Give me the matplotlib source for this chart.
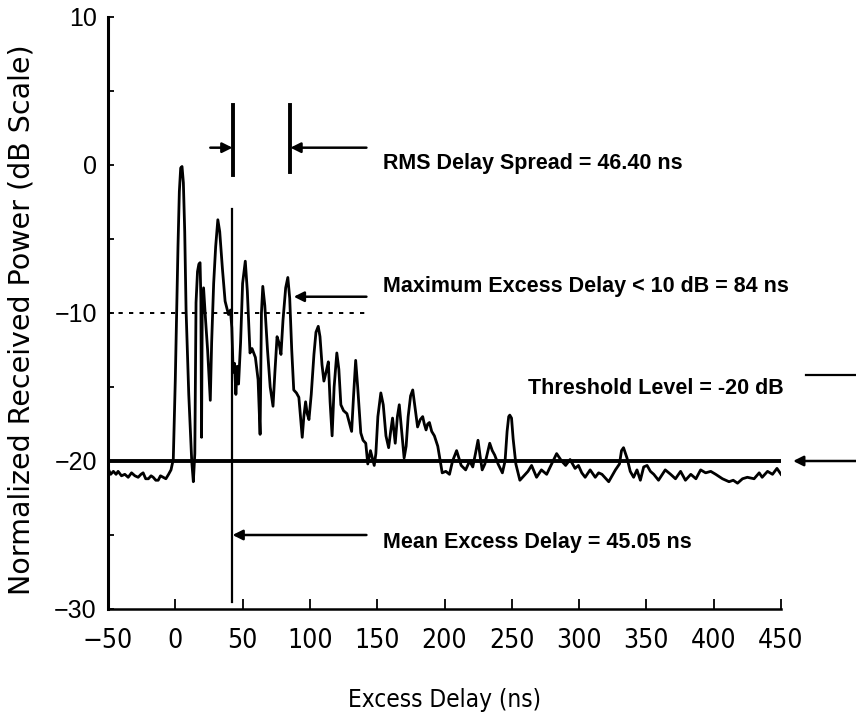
import matplotlib
matplotlib.use("Agg")
import matplotlib.pyplot as plt

# ---- data ----
delay_ns = [-50, -48, -46, -44, -42.5, -40, -37.5, -35, -32.5, -30, -27.6, -25.5, -23.9, -22, -20, -18,
            -16.4, -14.5, -12.7, -11, -9, -7, -5, -3.2, -1.5, 0, 1, 2, 3, 4, 5, 6, 7, 8, 10, 12.2, 13.4,
            14.5, 15.4, 16.5, 17.5, 18.4, 19.0, 19.5, 20.0, 21.0, 22.5, 24.0, 26.0, 27.0, 28.5, 30.0, 31.6,
            33.0, 35.0, 37.0, 39.5, 41.0, 42.0, 43.0, 44.0, 45.0, 46.0, 47.0, 48.5, 50.0, 52.0, 53.5, 55.5,
            57.0, 59.5, 61.5, 63.0, 64.0, 65.0, 66.5, 68.5, 70.5, 72.6, 74.0, 75.6, 77.0, 78.5, 80.0, 82.0,
            83.6, 85.0, 86.5, 88.0, 90.0, 91.8, 93.0, 94.3, 95.5, 96.8, 98.0, 99.3, 101, 103, 104.5, 106.2,
            107.5, 109, 110.4, 112, 113.7, 115, 116.5, 118, 120, 121.5, 123, 125, 127.5, 129.5, 131, 132.5,
            134, 135.5, 137.8, 139.5, 141.5, 143, 145, 147.8, 149, 150.5, 152.7, 154.5, 156.5, 158.5, 160,
            161.4, 162.5, 163.4, 165, 166.4, 168, 170, 171.5, 173, 174.8, 176.4, 178, 180, 182, 183.8, 185,
            186.3, 187.5, 188.8, 190.5, 192.5, 195, 196.5, 198.3, 201, 203.7, 206, 209, 212.4, 215.7, 218.7,
            221, 223, 224.9, 226.5, 228, 230, 231.8, 233.6, 235.5, 237.3, 239.8, 243, 245, 246.5, 247.7,
            248.5, 249.8, 251, 253, 256, 259, 262, 264.7, 268.4, 272, 275.9, 279.6, 283.3, 287, 290, 293.3,
            297, 299.5, 302, 304.5, 308.2, 312, 314.5, 317, 322, 327, 330, 331.5, 333, 335.6, 338, 340.5,
            343, 345.5, 348, 350.5, 353, 355.5, 359, 364, 368, 371.6, 375.4, 379, 383, 386.8, 390.3, 394,
            397.8, 401.5, 406.5, 411.4, 414.5, 417.7, 421.4, 425, 430, 433.8, 436, 440, 443.7, 447, 450]
power_db = [-20.5, -20.9, -20.7, -20.9, -20.7, -21.0, -20.9, -21.1, -20.8, -21.0, -21.1, -20.9, -20.8, -21.2,
            -21.2, -21.0, -21.1, -21.3, -21.3, -21.0, -21.1, -21.2, -20.9, -20.6, -19.9, -14.5, -10.0, -5.5,
            -1.8, -0.2, -0.1, -1.2, -4.5, -9.8, -15.5, -20.0, -21.4, -19.5, -9.3, -7.2, -6.7, -6.6, -9.0,
            -18.4, -10.0, -8.3, -10.5, -12.5, -15.9, -12.0, -8.0, -5.5, -3.7, -4.5, -7.0, -9.2, -10.1, -9.8,
            -11.0, -14.0, -13.4, -15.5, -13.6, -14.8, -12.0, -8.0, -6.5, -8.5, -12.7, -12.4, -13.0, -14.5,
            -18.2, -10.0, -8.2, -9.5, -12.5, -15.0, -16.3, -14.0, -11.6, -12.0, -12.8, -10.5, -8.3, -7.6,
            -9.0, -12.5, -15.2, -15.4, -15.7, -17.0, -18.4, -17.0, -16.0, -16.8, -17.2, -15.5, -12.8, -11.3,
            -10.9, -11.6, -13.5, -14.6, -14.0, -13.3, -16.0, -18.3, -15.0, -12.7, -13.8, -16.2, -16.6, -16.8,
            -17.5, -18.0, -15.5, -13.2, -15.0, -18.1, -18.6, -18.8, -20.2, -19.3, -20.3, -19.5, -17.0, -15.4,
            -16.2, -18.3, -19.1, -18.0, -17.1, -18.0, -18.8, -17.0, -16.2, -17.8, -19.8, -19.0, -17.0, -15.6,
            -15.2, -16.3, -17.7, -17.2, -17.0, -17.5, -17.9, -17.5, -17.4, -18.0, -18.3, -19.0, -19.8, -20.8,
            -20.7, -20.9, -20.0, -19.3, -20.3, -20.6, -20.0, -20.4, -19.5, -18.6, -19.7, -20.6, -20.2, -19.5,
            -18.8, -19.3, -19.6, -20.2, -20.8, -20.0, -18.0, -17.0, -16.9, -17.1, -18.5, -20.2, -21.3, -21.0,
            -20.7, -20.3, -21.1, -20.6, -20.9, -20.2, -19.5, -20.0, -20.3, -19.9, -20.5, -20.3, -20.8, -21.1,
            -20.6, -21.1, -20.8, -20.9, -21.4, -20.6, -20.2, -19.3, -19.1, -19.8, -20.7, -21.1, -20.6, -21.3,
            -20.4, -20.3, -20.7, -20.9, -21.3, -20.6, -20.9, -21.2, -20.7, -21.3, -20.9, -21.2, -20.6, -20.8,
            -20.7, -20.9, -21.2, -21.4, -21.3, -21.5, -21.2, -21.1, -21.2, -20.8, -21.1, -20.7, -20.9, -20.5,
            -20.9]

x_ticks = [-50, 0, 50, 100, 150, 200, 250, 300, 350, 400, 450]
y_ticks = [-30, -20, -10, 0, 10]
x_tick_labels = ["\u221250", "0", "50", "100", "150", "200", "250", "300", "350", "400", "450"]
y_tick_labels = ["\u221230", "\u221220", "\u221210", "0", "10"]

threshold_db = -20
max_excess_level_db = -10
mean_excess_ns = 42
rms_end_ns = 85
max_excess_peak_ns = 88
label_rms = "RMS Delay Spread = 46.40 ns"
label_max = "Maximum Excess Delay < 10 dB = 84 ns"
label_thr = "Threshold Level = -20 dB"
label_mean = "Mean Excess Delay = 45.05 ns"

# ---- figure ----
fig = plt.figure(figsize=(8.56, 7.2), dpi=100)
ax = fig.add_axes([108 / 856, 1 - 609 / 720, 673 / 856, 592 / 720])

ax.plot(delay_ns, power_db, color="black", lw=2.0, solid_joinstyle="round", zorder=3)

# threshold line (-20 dB) and dotted -10 dB line
ax.plot([-50, 450], [threshold_db, threshold_db], color="black", lw=2.8, zorder=2)
ax.plot([-50, 142], [max_excess_level_db, max_excess_level_db], color="black", lw=1.4,
        linestyle=(0, (2.2, 3.2)), zorder=2)

# mean excess delay vertical line
ax.plot([mean_excess_ns, mean_excess_ns], [-29.5, -3.0], color="black", lw=1.6, zorder=3)

# RMS delay spread marker lines
ax.plot([mean_excess_ns + 1, mean_excess_ns + 1], [-0.7, 4.05], color="black", lw=2.8, zorder=3)
ax.plot([rms_end_ns, rms_end_ns], [-0.5, 4.05], color="black", lw=2.8, zorder=3)

arrow_kw = dict(arrowstyle="-|>", color="black", lw=1.8, mutation_scale=15, shrinkA=0, shrinkB=0)
ax.annotate("", xy=(mean_excess_ns + 0.5, 1.17), xytext=(26, 1.17), arrowprops=arrow_kw)
ax.annotate("", xy=(rms_end_ns + 0.5, 1.17), xytext=(142, 1.17), arrowprops=arrow_kw)
ax.annotate("", xy=(max_excess_peak_ns, -8.9), xytext=(142, -8.9), arrowprops=arrow_kw)
ax.annotate("", xy=(mean_excess_ns + 0.5, -25.0), xytext=(142, -25.0), arrowprops=arrow_kw)
ax.annotate("", xy=(459, threshold_db), xytext=(507, threshold_db), arrowprops=arrow_kw,
            annotation_clip=False)
ax.plot([468.5, 507], [-14.2, -14.2], color="black", lw=1.6, clip_on=False)

txt_kw = dict(fontsize=15.5, fontweight="bold", family=["Liberation Sans", "DejaVu Sans"],
              ha="left", va="center", color="black")
ax.text(154, 0.1, label_rms, **txt_kw)
ax.text(154, -8.2, label_max, **txt_kw)
ax.text(262, -15.1, label_thr, **txt_kw)
ax.text(154, -25.5, label_mean, **txt_kw)

ax.set_xlim(-50, 450)
ax.set_ylim(-30, 10)
for s in ["top", "right"]:
    ax.spines[s].set_visible(False)
ax.spines["left"].set_linewidth(2.2)
ax.spines["bottom"].set_linewidth(1.8)

narrow = ["DejaVu Sans"]
ax.set_xticks(x_ticks)
ax.set_xticklabels(x_tick_labels, family=narrow, stretch="condensed", fontsize=19)
ax.set_yticks(y_ticks)
ax.set_yticklabels(y_tick_labels, family=["Liberation Sans", "DejaVu Sans"], fontsize=18)
ax.set_yticks(range(-30, 11, 5), minor=True)
ax.tick_params(axis="x", direction="in", length=7, width=1.3, pad=14)
ax.tick_params(axis="y", which="both", direction="in", length=4, width=1.3, pad=8)

ax.set_xlabel("Excess Delay (ns)", family=narrow, stretch="condensed", fontsize=17.5)
ax.xaxis.set_label_coords(0.5, (609 - 700) / 592)
ax.xaxis.label.set_va("center")
ax.set_ylabel("Normalized Received Power (dB Scale)", family=["DejaVu Sans"], fontsize=20.5)
ax.yaxis.set_label_coords((22 - 108) / 673, (609 - 320) / 592)
ax.yaxis.label.set_va("center")

fig.savefig("out.png", dpi=100)
